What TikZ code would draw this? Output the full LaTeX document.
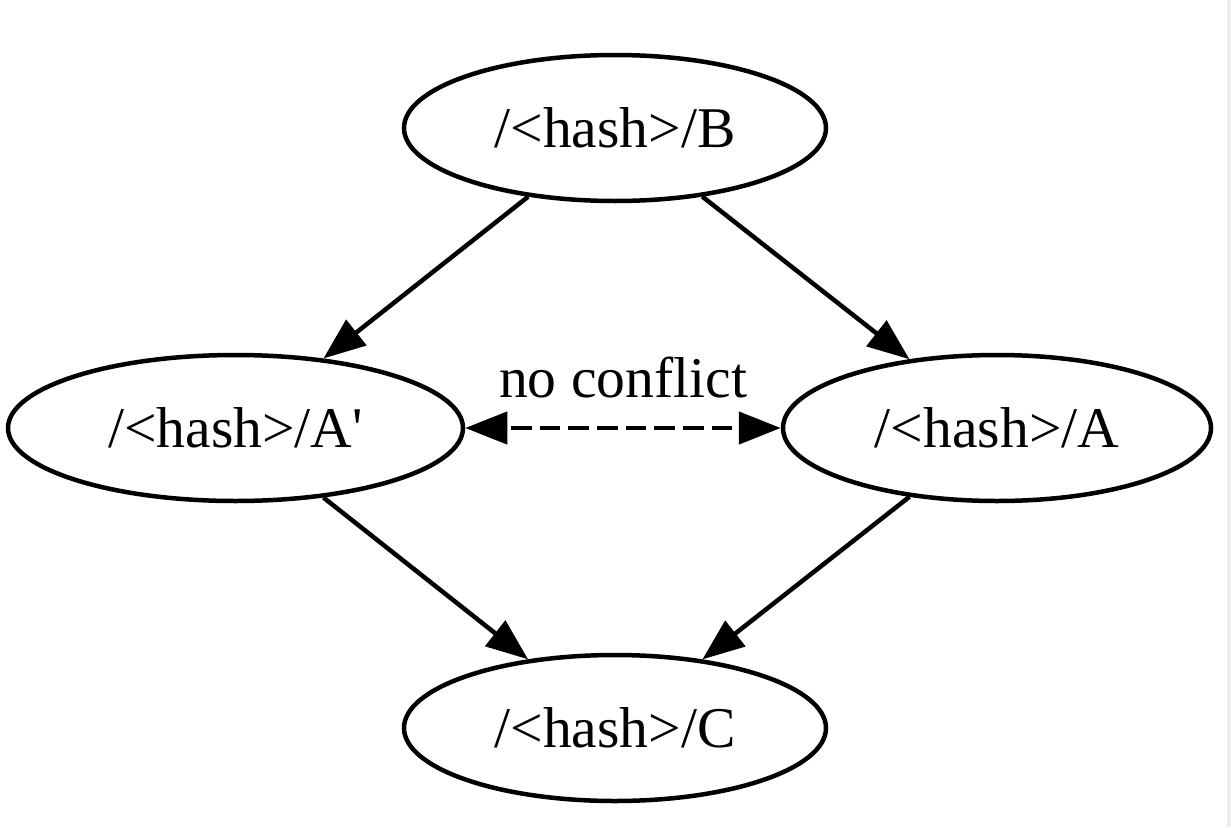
\documentclass[tikz,border=0pt]{standalone}
\usepackage{fontspec}
\setmainfont{Liberation Serif}[Ligatures=TeXOff]
\usetikzlibrary{shapes.geometric,arrows.meta}
\definecolor{stripgray}{HTML}{EEEEEE}
\tikzset{
  statenode/.style={ellipse, draw, line width=4.5pt, inner sep=0pt,
    minimum height=146pt, font=\fontsize{57.6}{60}\selectfont},
  edgeline/.style={line width=4.5pt, -{Triangle[length=42pt,width=32pt]}},
  conflictline/.style={line width=4.5pt, dash pattern=on 20.7pt off 8pt, dash phase=24pt,
    {Triangle[length=42pt,width=32pt]}-{Triangle[length=42pt,width=32pt]}},
  lbl/.style={font=\fontsize{57.6}{60}\selectfont, inner sep=0pt}
}
\begin{document}
\begin{tikzpicture}[x=1pt,y=-1pt]
\useasboundingbox (0,0) rectangle (1231,827);
\fill[white] (0,0) rectangle (1231,827);
\fill[stripgray] (1227,0) rectangle (1231,827);
\node[statenode, minimum width=422pt] (B) at (615,128) {/<hash>/B};
\node[statenode, minimum width=455pt] (Ap) at (235.5,428) {/<hash>/A'};
\node[statenode, minimum width=428pt] (A) at (997,428) {/<hash>/A};
\node[statenode, minimum width=422pt] (C) at (615,728) {/<hash>/C};
\draw[edgeline] (B) -- (Ap);
\draw[edgeline] (B) -- (A);
\draw[edgeline] (Ap) -- (C);
\draw[edgeline] (A) -- (C);
\draw[conflictline] (Ap) -- (A);
\node[lbl, anchor=base] (nc) at (623,397) {no conflict};
\end{tikzpicture}
\end{document}
